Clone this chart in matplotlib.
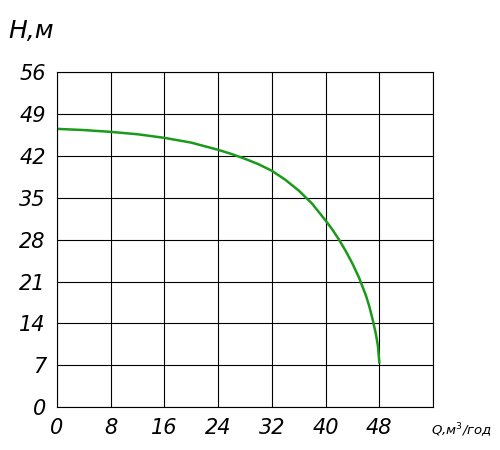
import matplotlib
matplotlib.use("Agg")
import matplotlib.pyplot as plt

Q = [0, 4, 8, 12, 16, 20, 24, 26, 28, 30, 32, 34, 36, 38, 40, 41, 42, 43, 44, 45, 46, 46.5, 47, 47.5, 47.8, 48]
H = [46.5, 46.3, 46.0, 45.6, 45.0, 44.2, 43.0, 42.3, 41.5, 40.6, 39.5, 38.0, 36.2, 34.0, 31.2, 29.7, 28.0, 26.1, 24.0, 21.6, 18.7, 16.9, 14.7, 12.2, 10.2, 7.5]
xticks = [0, 8, 16, 24, 32, 40, 48]
yticks = [0, 7, 14, 21, 28, 35, 42, 49, 56]

fig = plt.figure(figsize=(5, 4.5), dpi=100)
ax = fig.add_axes([0.114, 0.095, 0.752, 0.745])
ax.plot(Q, H, color="#1a9a1a", lw=1.8)
ax.set_xlim(0, 56)
ax.set_ylim(0, 56)
ax.set_xticks(xticks + [56])
ax.set_xticklabels([str(v) for v in xticks] + [""])
ax.set_yticks(yticks)
ax.grid(True, color="black", lw=0.8)
for s in ax.spines.values():
    s.set_linewidth(0.8)
ax.tick_params(length=0, labelsize=15, pad=8)
for t in ax.get_xticklabels() + ax.get_yticklabels():
    t.set_fontstyle("italic")
    t.set_fontweight("light")
ax.text(-0.13, 1.1, "H,м", transform=ax.transAxes, fontsize=18, style="italic")
ax.text(0.995, -0.07, "Q,м$^3$/год", transform=ax.transAxes, fontsize=9.5, style="italic", va="center")
fig.savefig("out.png")
